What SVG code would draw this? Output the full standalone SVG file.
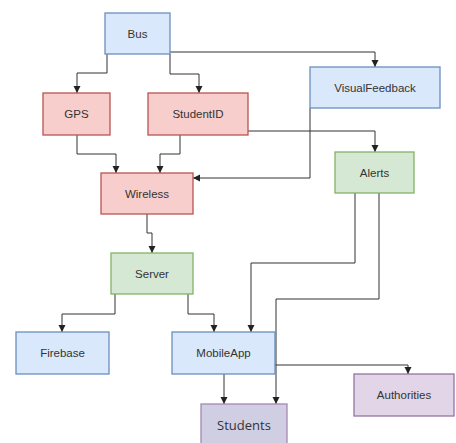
<svg xmlns="http://www.w3.org/2000/svg" width="456" height="443" viewBox="0 0 456 443">
<style>
.n rect{stroke-width:1.3}
.blue rect{fill:#dae8fc;stroke:#6c8ebf}
.red rect{fill:#f8cecc;stroke:#b85450}
.green rect{fill:#d5e8d4;stroke:#82b366}
.purple rect{fill:#e1d5e7;stroke:#9673a6}
.lav rect{fill:#d0cee2;stroke:#a687b0}
.n text{font-family:"Liberation Sans",Arial,sans-serif;font-size:11.5px;fill:#333;text-anchor:middle;dominant-baseline:central}
.lav text{font-family:"Open Sans","Liberation Sans",sans-serif;font-size:13px}
.e path{fill:none;stroke:#333;stroke-width:1}
</style>
<defs>
<marker id="a" viewBox="0 0 8 8" refX="7" refY="4" markerWidth="8" markerHeight="8" markerUnits="userSpaceOnUse" orient="auto">
<path d="M0,0.5 L7,4 L0,7.5 z" fill="#222"/>
</marker>
</defs>
<rect width="456" height="443" fill="#fff"/>
<g class="e" marker-end="url(#a)">
<path d="M107,54 V73 H77 V93"/>
<path d="M170,54 V74 H199 V93"/>
<path d="M170,52 H375 V67"/>
<path d="M77,135 V154 H116 V173"/>
<path d="M180,135 V154 H160 V173"/>
<path d="M248,131 H375 V152"/>
<path d="M310,108 V178 H193"/>
<path d="M147,214 V233 H152 V253"/>
<path d="M115,294 V314 H62 V332"/>
<path d="M188,294 V314 H214 V332"/>
<path d="M355,193 V263 H251 V332"/>
<path d="M379,193 V299 H276 V404"/>
<path d="M224,374 V404"/>
<path d="M275,365 H408 V374"/>
</g>
<g id="bus" class="n blue"><rect x="105" y="13" width="65" height="41"/><text x="137.5" y="33.5">Bus</text></g>
<g id="gps" class="n red"><rect x="43" y="93" width="67" height="42"/><text x="76.5" y="114">GPS</text></g>
<g id="studentid" class="n red"><rect x="148" y="93" width="100" height="42"/><text x="198" y="114">StudentID</text></g>
<g id="visualfeedback" class="n blue"><rect x="310" y="67" width="130" height="41"/><text x="375" y="87.5">VisualFeedback</text></g>
<g id="wireless" class="n red"><rect x="101" y="173" width="92" height="41"/><text x="147" y="193.5">Wireless</text></g>
<g id="alerts" class="n green"><rect x="335" y="152" width="79" height="41"/><text x="374.5" y="172.5">Alerts</text></g>
<g id="server" class="n green"><rect x="111" y="253" width="82" height="41"/><text x="152" y="273.5">Server</text></g>
<g id="firebase" class="n blue"><rect x="16" y="332" width="93" height="42"/><text x="62.5" y="353">Firebase</text></g>
<g id="mobileapp" class="n blue"><rect x="172" y="332" width="103" height="42"/><text x="223.5" y="353">MobileApp</text></g>
<g id="authorities" class="n purple"><rect x="354" y="374" width="100" height="42"/><text x="404" y="395">Authorities</text></g>
<g id="students" class="n lav"><rect x="201" y="404" width="86" height="44"/><text x="244" y="425">Students</text></g>
</svg>
